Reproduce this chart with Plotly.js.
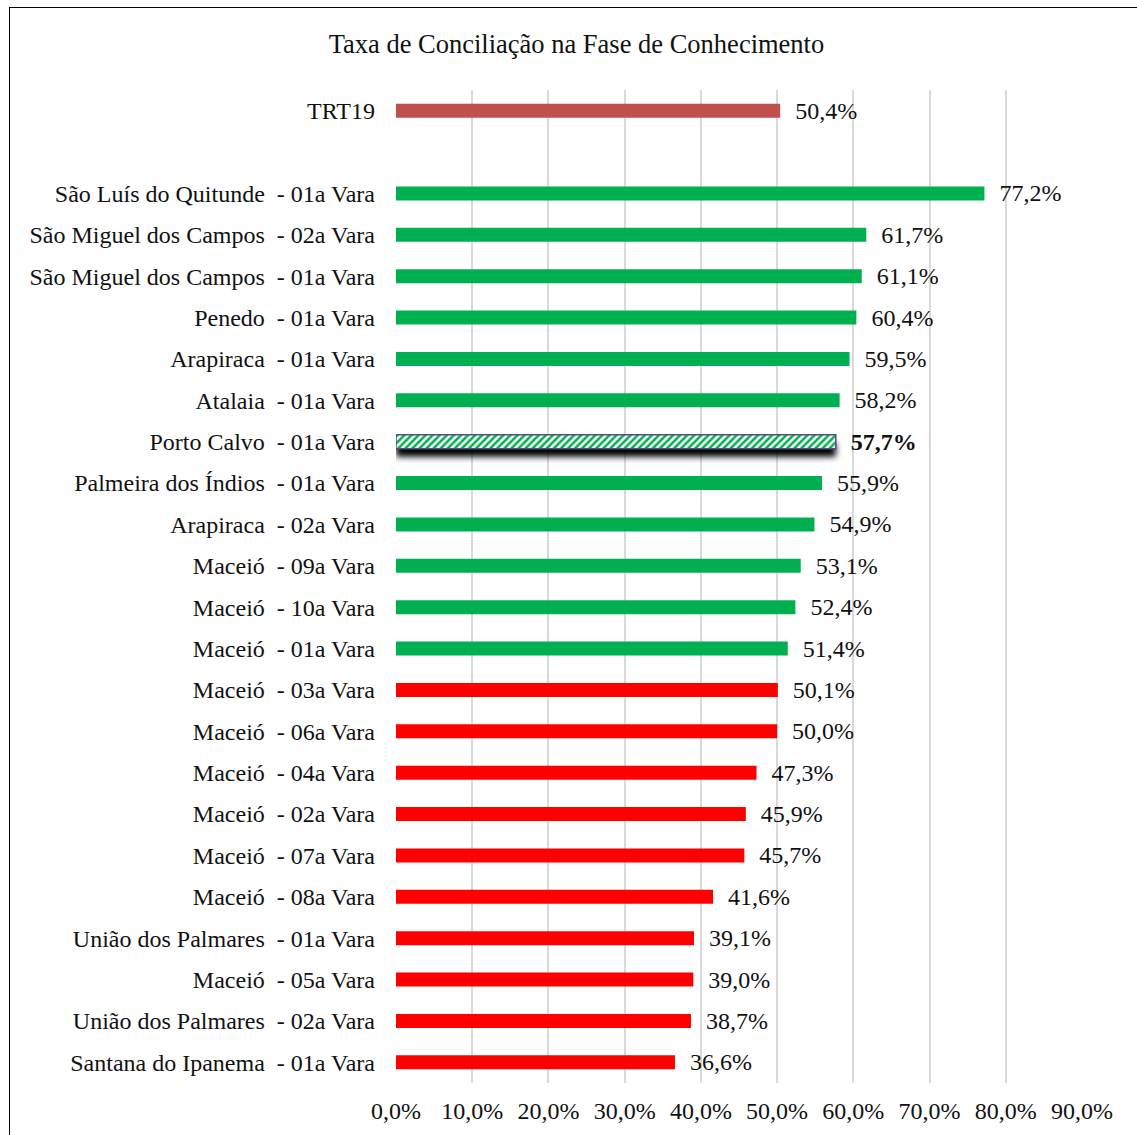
<!DOCTYPE html>
<html><head><meta charset="utf-8">
<script src="https://cdn.plot.ly/plotly-3.0.1.min.js"></script>
<style>
html,body{margin:0;padding:0;overflow:hidden;background:#fff;}
#chart{position:absolute;left:0;top:0;width:1137px;height:1135px;}
#frame{position:absolute;left:9px;top:7px;width:1200px;height:1200px;border:1.5px solid #000;pointer-events:none;}
</style></head>
<body>
<div id="chart"></div>
<div id="frame"></div>
<script>
const titleText = 'Taxa de Conciliação na Fase de Conhecimento';
const refLabel = 'TRT19';
const refValue = 50.4;
const varas = [
 'São Luís do Quitunde', 'São Miguel dos Campos', 'São Miguel dos Campos', 'Penedo', 'Arapiraca',
 'Atalaia', 'Porto Calvo', 'Palmeira dos Índios', 'Arapiraca', 'Maceió', 'Maceió', 'Maceió',
 'Maceió', 'Maceió', 'Maceió', 'Maceió', 'Maceió', 'Maceió', 'União dos Palmares', 'Maceió',
 'União dos Palmares', 'Santana do Ipanema'
];
const varaNum = ['01a','02a','01a','01a','01a','01a','01a','01a','02a','09a','10a','01a',
 '03a','06a','04a','02a','07a','08a','01a','05a','02a','01a'];
const values = [77.2, 61.7, 61.1, 60.4, 59.5, 58.2, 57.7, 55.9, 54.9, 53.1, 52.4, 51.4,
 50.1, 50.0, 47.3, 45.9, 45.7, 41.6, 39.1, 39.0, 38.7, 36.6];
const highlight = 'Porto Calvo';
const tickVals = [0,10,20,30,40,50,60,70,80,90];

const FONT = 'Liberation Serif, Times New Roman, serif';
const fmt = v => v.toFixed(1).replace('.', ',') + '%';
const cats = [refLabel, ' '].concat(varas.map((v,i)=> v + '\u00a0 - ' + varaNum[i] + ' Vara'));
const xs = [refValue, null].concat(values);
const isHi = [false,false].concat(varas.map(v=>v===highlight));
const colors = xs.map((v,i)=> i===0 ? '#c0504d' : (v>refValue ? '#00b050' : '#ff0000'));
const texts = xs.map((v,i)=> v===null ? '' : '\u00a0\u00a0' + (isHi[i] ? '<b>'+fmt(v)+'</b>' : fmt(v)));

const trace = {
  type:'bar', orientation:'h', y:cats, x:xs, text:texts,
  textposition:'outside', cliponaxis:false, constraintext:'none',
  textfont:{family:FONT, size:24, color:'#111'},
  marker:{color:colors,
    pattern:{shape:isHi.map(h=>h?'/':''), bgcolor:'#ffffff', fillmode:'replace', size:5, solidity:0.5},
    line:{color:isHi.map(h=>h?'#5b4a80':'rgba(0,0,0,0)'), width:isHi.map(h=>h?1.5:0)}},
  hoverinfo:'none'
};
const layout = {
  width:1137, height:1135, paper_bgcolor:'#fff', plot_bgcolor:'#fff',
  margin:{l:396, r:55, t:90, b:52},
  bargap:0.66, showlegend:false,
  font:{family:FONT, size:24, color:'#111'},
  title:{text:titleText, x:0.507, xref:'container', xanchor:'center', y:1-44/1135, yref:'container', yanchor:'middle',
    font:{family:FONT, size:26.5, color:'#111'}},
  xaxis:{range:[0,90], tickvals:tickVals, ticktext:tickVals.map(fmt), showgrid:true, gridcolor:'#d9d9d9', gridwidth:2,
    zeroline:false, showline:false, ticks:'', ticklabelstandoff:11, fixedrange:true, tickfont:{size:24}},
  yaxis:{type:'category', autorange:'reversed', showgrid:false, zeroline:false, showline:false, ticks:'',
    ticklabelstandoff:20, tickfont:{size:24}}
};
Plotly.newPlot('chart',[trace],layout,{displayModeBar:false, staticPlot:true}).then(gd=>{
  const svg = gd.querySelector('svg.main-svg');
  const ns = 'http://www.w3.org/2000/svg';
  let defs = svg.querySelector('defs');
  const f = document.createElementNS(ns,'filter');
  f.setAttribute('id','barShadow'); f.setAttribute('x','-10%'); f.setAttribute('y','-100%');
  f.setAttribute('width','120%'); f.setAttribute('height','400%');
  const ds = document.createElementNS(ns,'feDropShadow');
  ds.setAttribute('dx','0'); ds.setAttribute('dy','8'); ds.setAttribute('stdDeviation','3');
  ds.setAttribute('flood-color','#000'); ds.setAttribute('flood-opacity','1');
  f.appendChild(ds); defs.appendChild(f);
  const pts = gd.querySelectorAll('g.trace.bars g.point');
  isHi.forEach((h,i)=>{
    if(h && pts[i]){
      const p = pts[i].querySelector('path');
      if(p){
        const c = p.cloneNode(false);
        c.removeAttribute('style');
        c.setAttribute('style','fill:#ffffff;stroke:none;opacity:1');
        c.setAttribute('filter','url(#barShadow)');
        p.parentNode.insertBefore(c, p);
      }
    }
  });
});
</script>
</body></html>
